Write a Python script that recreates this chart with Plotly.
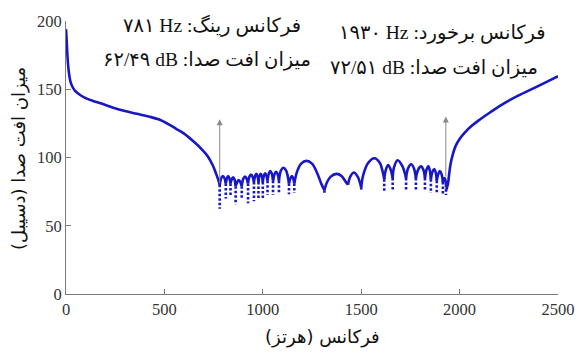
import plotly.graph_objects as go

# ---------------- data ----------------
# smooth low-frequency branch (Hz, dB)
low_freq = [0, 3, 6, 10, 15, 22, 32, 45, 70, 100, 135, 180, 240, 300, 360, 420, 470,
            520, 560, 600, 650, 690, 720, 745, 763, 775, 781]
low_tl = [194, 187, 178, 169, 162, 156, 152, 149, 146, 143.5, 141.5, 139.5, 136.5, 134,
          132, 130, 128, 124.5, 121, 117.5, 111.5, 106, 101, 94.5, 88, 83, 80]

# solid lobes between ring and coincidence frequency (None separates lobes)
lobe_freq = [781, 789, 797, 805, 812, None,
             812, 818, 824, 830, 836, None,
             836, 842, 849, 856, 862, None,
             862, 870, 878, 886, 893, None,
             893, 901, 910, 918, 925, None,
             925, 932, 940, 948, 955, None,
             955, 961, 967, 973, 978, None,
             978, 983, 989, 995, 1000, None,
             1000, 1006, 1012, 1018, 1024, None,
             1024, 1031, 1038, 1045, 1052, None,
             1052, 1060, 1067, 1075, 1082, None,
             1082, 1092, 1104, 1118, 1133, None,
             1133, 1141, 1148, 1154, 1160, None,
             1160, 1175, 1195, 1222, 1250, 1275, 1298, 1313, None,
             1313, 1325, 1345, 1375, 1400, 1420, 1433, None,
             1433, 1443, 1462, 1482, 1500, None,
             1500, 1510, 1535, 1567, 1595, 1610, 1617, None,
             1617, 1625, 1637, 1650, 1660, None,
             1660, 1667, 1685, 1708, 1728, None,
             1728, 1738, 1754, 1768, 1778, None,
             1778, 1789, 1804, 1816, 1824, None,
             1824, 1832, 1841, 1848, 1854, None,
             1854, 1862, 1871, 1878, 1884, None,
             1884, 1892, 1900, 1908, 1915, None,
             1915, 1919, 1923, 1927, 1931]
lobe_tl = [80, 85, 86.5, 85, 81, None,
           81, 85, 86.5, 85, 81, None,
           81, 84, 85.5, 84, 79, None,
           79, 82, 83.5, 82, 79, None,
           79, 84.5, 86, 84.5, 81, None,
           81, 86, 87.5, 86, 82, None,
           82, 86.5, 88, 86.5, 82, None,
           82, 86.5, 88, 86.5, 82, None,
           82, 87, 88.5, 87, 83, None,
           83, 88.5, 90, 88.5, 83, None,
           83, 88, 89.5, 88, 83, None,
           83, 90.5, 92.5, 90.5, 81, None,
           81, 85, 86.5, 85, 81, None,
           81, 90, 95.5, 97.5, 95.5, 89, 80.5, 76, None,
           76, 81.5, 86, 88, 86.5, 82.5, 80, None,
           80, 85.5, 89, 86, 78, None,
           78, 87, 96, 99.5, 96, 89, 84, None,
           84, 91, 94.5, 91, 85, None,
           85, 93, 98, 94, 85, None,
           85, 92, 95, 92, 85, None,
           85, 91, 93.5, 91, 85, None,
           85, 91, 93.5, 91, 84, None,
           84, 89.5, 91.5, 89.5, 83, None,
           83, 88, 90, 88, 82, None,
           82, 84, 85, 84, 80]

# sparse (dotted) parts of the dips
dip_freq = [781, 812, 836, 862, 893, 925, 955, 978, 1000, 1024, 1052, 1082, 1133, 1160,
            1313, 1500, 1617, 1660, 1728, 1778, 1824, 1854, 1884, 1915, 1931]
dip_top = [80, 81, 81, 79, 79, 81, 82, 82, 82, 83, 83, 83, 81, 81,
           76, 78, 84, 85, 85, 85, 85, 84, 83, 82, 80]
dip_bottom = [62.5, 70, 71.5, 65.5, 69, 66.5, 68, 69, 70, 72.5, 72.5, 74, 73, 74,
              73.5, 76.5, 75.5, 75.5, 76.5, 76.5, 75.5, 74, 73.5, 72.5, 72.5]

# high-frequency branch above coincidence
high_freq = [1931, 1940, 1947, 1955, 1965, 1980, 2000, 2025, 2060, 2100, 2160, 2230,
             2300, 2380, 2450, 2500]
high_tl = [76, 80, 88, 96, 102, 108.5, 113.5, 118, 123, 127.5, 133.5, 140, 145.5, 151,
           156, 159.5]

# annotated frequencies (ring, coincidence) and arrow extents
mark_freq = [781, 1930]
arrow_low = [80, 85]
arrow_high = [128, 130]

label_ring = ["۷۸۱ Hz :فرکانس رینگ", "۶۲/۴۹ dB :میزان افت صدا"]
label_coin = ["۱۹۳۰ Hz :فرکانس برخورد", "۷۲/۵۱ dB :میزان افت صدا"]
x_title = "\u200fفرکانس (هرتز)\u200f"
y_title = "\u200fمیزان افت صدا (دسیبل)\u200f"

# ---------------- figure ----------------
blue = "#1717c6"
fig = go.Figure()
fig.add_trace(go.Scatter(x=low_freq, y=low_tl, mode="lines",
                         line=dict(color=blue, width=2.6, shape="spline")))
fig.add_trace(go.Scatter(x=lobe_freq, y=lobe_tl, mode="lines", connectgaps=False,
                         line=dict(color=blue, width=2.6, shape="spline")))
dx, dy = [], []
for f, t, b in zip(dip_freq, dip_top, dip_bottom):
    dx += [f, f, None]
    dy += [t, b, None]
fig.add_trace(go.Scatter(x=dx, y=dy, mode="lines",
                         line=dict(color=blue, width=2.6, dash="2.5px,2px")))
fig.add_trace(go.Scatter(x=high_freq, y=high_tl, mode="lines",
                         line=dict(color=blue, width=2.6, shape="spline")))

for f, lo, hi in zip(mark_freq, arrow_low, arrow_high):
    fig.add_annotation(x=f, y=hi, ax=f, ay=lo, xref="x", yref="y", axref="x", ayref="y",
                       text="", showarrow=True, arrowhead=2, arrowsize=1.2,
                       arrowwidth=1, arrowcolor="#8a8a8a")

tfont = dict(family="Liberation Serif, DejaVu Sans", size=19.5, color="#111")
for txt, x, y in [(label_ring[0], 742, 196.5), (label_ring[1], 717, 171.5),
                  (label_coin[0], 1912, 191.5), (label_coin[1], 1872, 165.5)]:
    fig.add_annotation(x=x, y=y, xref="x", yref="y", text=txt, showarrow=False,
                       font=tfont, xanchor="center", yanchor="middle")

afont = dict(family="DejaVu Sans", size=18, color="#111")
fig.add_annotation(x=0.522, y=-0.158, xref="paper", yref="paper", text=x_title,
                   showarrow=False, font=afont, xanchor="center", yanchor="middle")
fig.add_annotation(x=-0.0956, y=0.498, xref="paper", yref="paper", text=y_title,
                   showarrow=False, font=afont, textangle=-90,
                   xanchor="center", yanchor="middle")

axis_common = dict(showline=True, linecolor="#7a7a7a", linewidth=1, ticks="inside",
                   ticklen=5, tickcolor="#7a7a7a", showgrid=False, zeroline=False,
                   tickfont=dict(family="Liberation Serif", size=16.5, color="#333"))
fig.update_xaxes(range=[0, 2500], tickvals=[0, 500, 1000, 1500, 2000, 2500], **axis_common)
fig.update_yaxes(range=[0, 200], tickvals=[0, 50, 100, 150, 200], **axis_common)
fig.update_layout(width=587, height=359, margin=dict(l=66, r=19, t=15, b=65),
                  paper_bgcolor="white", plot_bgcolor="white", showlegend=False)
fig.write_html("out.html")
